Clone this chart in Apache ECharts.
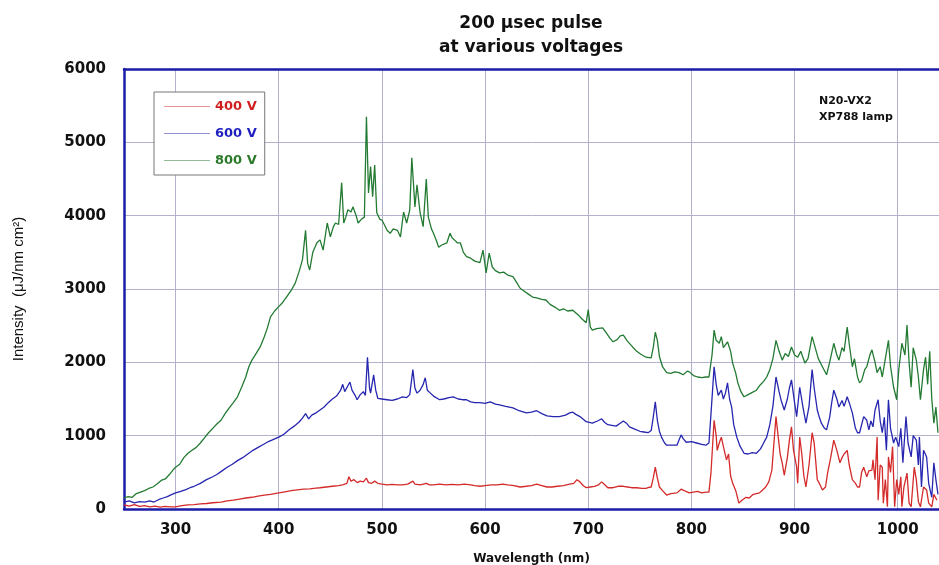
<!DOCTYPE html>
<html>
<head>
<meta charset="utf-8">
<script src="https://cdn.jsdelivr.net/npm/echarts@6/dist/echarts.min.js"></script>
<style>html,body{margin:0;padding:0;background:#fff}#c{width:939px;height:565px}</style>
</head>
<body>
<div id="c"></div>
<script>
var seriesNames = ['400 V', '600 V', '800 V'];
var yTicks = [0, 1000, 2000, 3000, 4000, 5000, 6000];
var xTicks = [300, 400, 500, 600, 700, 800, 900, 1000];

var v800 = [
[250,150],[254,170],[258,160],[262,210],[266,230],[270,250],[274,280],[278,300],[282,340],[286,390],[290,410],[294,470],[298,540],[300,570],[304,610],[308,700],[312,760],[316,800],[320,840],[324,900],[328,970],[332,1040],[336,1100],[340,1160],[344,1210],[348,1300],[352,1380],[356,1450],[360,1530],[364,1660],[368,1800],[371,1940],[374,2030],[378,2120],[382,2210],[386,2350],[389,2470],[392,2620],[396,2700],[400,2760],[404,2820],[408,2900],[412,2980],[416,3080],[420,3250],[423,3400],[426,3800],[428,3350],[430,3260],[433,3500],[437,3630],[440,3670],[443,3530],[447,3900],[450,3710],[453,3850],[455,3900],[458,3880],[461,4450],[463,3900],[465,3980],[467,4080],[470,4050],[472,4120],[475,4000],[477,3900],[480,3950],[483,3980],[485,5350],[487,4310],[489,4670],[491,4260],[493,4690],[495,4040],[498,3950],[500,3940],[503,3860],[505,3800],[508,3760],[511,3820],[515,3800],[518,3710],[521,4050],[524,3900],[527,4080],[529,4790],[532,4120],[534,4420],[537,4040],[540,3850],[543,4500],[545,3980],[548,3820],[550,3760],[553,3650],[555,3570],[558,3600],[563,3630],[566,3760],[568,3700],[571,3660],[573,3630],[576,3630],[579,3500],[582,3440],[586,3420],[590,3380],[595,3360],[598,3530],[601,3220],[604,3490],[607,3300],[610,3250],[614,3220],[618,3230],[622,3190],[627,3170],[631,3080],[634,3010],[638,2970],[642,2930],[646,2890],[650,2880],[655,2860],[659,2850],[663,2790],[668,2750],[672,2710],[676,2730],[680,2700],[685,2710],[690,2650],[694,2590],[698,2540],[700,2720],[702,2480],[704,2440],[708,2460],[714,2470],[718,2390],[721,2330],[724,2280],[728,2310],[731,2360],[734,2370],[738,2290],[743,2210],[747,2150],[751,2110],[756,2070],[761,2060],[763,2200],[765,2410],[767,2300],[769,2080],[772,1940],[776,1860],[780,1850],[784,1870],[788,1860],[792,1830],[796,1880],[798,1870],[802,1820],[806,1800],[810,1790],[814,1800],[817,1800],[820,2100],[822,2440],[824,2300],[827,2260],[829,2350],[831,2200],[835,2280],[838,2150],[840,1990],[843,1850],[845,1720],[848,1600],[851,1530],[855,1560],[859,1590],[863,1620],[866,1680],[870,1740],[873,1800],[876,1900],[879,2050],[882,2300],[885,2150],[888,2030],[891,2120],[894,2080],[897,2210],[900,2100],[903,2070],[906,2150],[910,1990],[913,2050],[915,2200],[917,2350],[920,2200],[923,2050],[927,1940],[931,1830],[934,2000],[938,2260],[941,2100],[943,2030],[946,2200],[948,2150],[951,2480],[953,2250],[956,1940],[958,2050],[961,1800],[963,1720],[965,1750],[968,1900],[970,1940],[973,2100],[975,2170],[978,2000],[980,1860],[983,1940],[985,1800],[988,2050],[991,2300],[993,1950],[996,1660],[999,1490],[1001,1900],[1004,2260],[1007,2100],[1009,2510],[1011,2000],[1013,1660],[1015,2200],[1018,2030],[1020,1800],[1022,1490],[1025,1900],[1027,2070],[1029,1700],[1031,2150],[1033,1500],[1035,1170],[1037,1390],[1039,1040]
];

var v600 = [
[250,95],[255,110],[260,85],[265,100],[270,95],[275,110],[279,95],[284,130],[288,150],[292,170],[296,195],[300,220],[305,240],[310,265],[314,290],[318,310],[324,350],[330,400],[336,440],[340,470],[345,520],[350,570],[355,610],[360,660],[365,700],[370,750],[375,800],[380,840],[385,880],[390,920],[395,950],[400,980],[405,1020],[410,1080],[415,1130],[420,1190],[423,1240],[426,1300],[429,1230],[432,1280],[436,1310],[440,1350],[444,1390],[448,1450],[452,1500],[456,1540],[460,1620],[462,1700],[464,1600],[467,1680],[469,1730],[471,1620],[474,1550],[476,1490],[479,1560],[482,1600],[484,1550],[486,2070],[488,1650],[489,1580],[492,1830],[494,1620],[496,1510],[500,1500],[505,1490],[510,1480],[515,1500],[520,1530],[524,1520],[527,1560],[530,1900],[532,1650],[534,1580],[537,1620],[540,1700],[542,1790],[544,1620],[547,1580],[550,1540],[556,1490],[560,1500],[565,1520],[569,1530],[574,1500],[578,1490],[582,1490],[586,1460],[590,1450],[595,1450],[600,1440],[605,1460],[610,1430],[614,1420],[620,1400],[627,1380],[633,1340],[640,1310],[645,1320],[650,1340],[655,1300],[660,1270],[666,1260],[672,1260],[678,1280],[682,1310],[685,1320],[688,1290],[692,1260],[698,1190],[704,1170],[709,1200],[713,1230],[716,1180],[719,1150],[723,1140],[727,1130],[731,1170],[734,1200],[737,1170],[740,1120],[745,1090],[750,1060],[754,1050],[758,1040],[761,1070],[763,1250],[765,1460],[767,1210],[769,1060],[771,980],[774,900],[776,870],[781,870],[786,870],[788,940],[790,1010],[792,960],[795,910],[800,920],[805,900],[810,880],[814,870],[817,900],[819,1300],[822,1940],[824,1700],[826,1550],[829,1620],[831,1500],[833,1580],[835,1720],[837,1500],[839,1390],[841,1150],[844,980],[847,860],[851,760],[855,750],[859,770],[863,760],[867,820],[870,900],[873,980],[876,1150],[879,1400],[882,1800],[885,1600],[887,1480],[890,1350],[893,1500],[895,1650],[897,1760],[900,1450],[902,1260],[905,1660],[908,1400],[911,1170],[914,1400],[917,1900],[919,1650],[922,1350],[924,1250],[926,1170],[929,1100],[931,1080],[934,1250],[936,1450],[938,1620],[941,1500],[943,1390],[946,1480],[948,1400],[951,1530],[953,1450],[956,1310],[959,1100],[961,1040],[963,1040],[965,1150],[967,1260],[970,1210],[972,1080],[974,1200],[976,1120],[978,1350],[981,1490],[983,1200],[985,1040],[987,1250],[989,800],[991,1490],[993,1100],[996,900],[998,980],[1001,850],[1003,1100],[1005,630],[1008,1260],[1010,900],[1013,710],[1015,1000],[1018,940],[1020,600],[1021,980],[1023,300],[1025,800],[1028,710],[1030,350],[1033,160],[1035,630],[1037,400],[1039,200]
];

var v400 = [
[250,55],[255,40],[260,60],[265,35],[270,45],[275,30],[280,40],[285,25],[290,35],[295,30],[300,30],[306,45],[312,55],[318,60],[324,70],[330,75],[336,85],[344,95],[350,110],[356,120],[362,135],[368,150],[374,160],[380,175],[386,190],[392,200],[400,220],[406,235],[412,250],[418,260],[424,270],[430,275],[436,285],[440,290],[446,300],[452,310],[458,320],[462,330],[466,350],[468,440],[470,380],[473,400],[476,360],[479,380],[482,370],[485,420],[487,360],[490,350],[493,380],[496,350],[500,340],[505,330],[510,335],[515,330],[520,330],[525,340],[530,380],[532,340],[537,330],[543,350],[546,330],[550,330],[556,340],[562,330],[568,335],[574,330],[580,340],[586,330],[590,320],[595,310],[600,320],[606,330],[612,330],[617,340],[622,330],[628,320],[634,300],[640,310],[645,320],[650,340],[655,320],[660,300],[665,300],[670,310],[676,320],[682,340],[686,350],[689,400],[692,370],[695,320],[698,290],[702,300],[706,310],[710,330],[713,370],[716,330],[719,290],[724,290],[729,310],[734,310],[738,300],[742,290],[747,290],[752,280],[756,280],[758,290],[761,300],[763,420],[765,570],[767,420],[769,300],[772,250],[776,190],[780,210],[786,220],[790,270],[793,250],[798,220],[802,230],[806,240],[810,220],[814,230],[817,230],[819,500],[822,1210],[824,1000],[825,800],[827,900],[829,980],[831,850],[834,670],[836,750],[838,450],[840,350],[843,250],[846,80],[849,120],[853,160],[856,150],[860,200],[863,210],[866,220],[869,260],[872,300],[875,370],[878,530],[880,900],[882,1260],[884,1000],[886,750],[888,630],[890,460],[893,700],[895,940],[897,1120],[899,800],[902,570],[903,350],[905,980],[907,750],[909,450],[911,300],[914,600],[917,1040],[919,900],[922,400],[924,350],[927,260],[930,300],[932,490],[935,700],[938,940],[941,800],[944,630],[946,700],[948,750],[951,800],[953,600],[956,400],[959,350],[961,300],[963,300],[965,500],[967,570],[970,440],[972,520],[975,530],[976,670],[978,400],[980,980],[981,120],[983,600],[985,570],[986,80],[988,400],[990,30],[991,710],[993,500],[995,850],[997,30],[999,400],[1001,200],[1003,440],[1004,30],[1006,300],[1009,490],[1011,80],[1013,30],[1016,570],[1018,400],[1020,100],[1022,30],[1025,300],[1028,260],[1030,80],[1033,30],[1035,200],[1038,120]
];

var colors = { '400 V': '#d42a2a', '600 V': '#2626b0', '800 V': '#237a32' };
var textColors = { '400 V': '#d01e1e', '600 V': '#1f1fc0', '800 V': '#2a7a2a' };

var chart = echarts.init(document.getElementById('c'), null, { renderer: 'canvas' });
var FONT = 'Liberation Sans, Arial, sans-serif';
var WIDE = 'DejaVu Sans, Verdana, sans-serif';
var axisBlue = '#1c1ca8';
var gridCol = '#b2b2cc';

chart.setOption({
  animation: false,
  backgroundColor: '#ffffff',
  graphic: [
    { type: 'text', x: 531, y: 12, style: { text: '200 \u03bcsec pulse\nat various voltages', align: 'center', fontFamily: WIDE, fontSize: 17, fontWeight: 'bold', lineHeight: 24, fill: '#111' } },
    { type: 'text', x: 819, y: 93, style: { text: 'N20-VX2\nXP788 lamp', fontFamily: WIDE, fontSize: 11, fontWeight: 'bold', lineHeight: 16, fill: '#111' } }
  ],
  legend: {
    orient: 'vertical', left: 154, top: 92,
    padding: [8, 8, 8, 10], itemGap: 14, itemWidth: 46, itemHeight: 14,
    borderColor: '#777', borderWidth: 1, backgroundColor: '#fff',
    icon: 'path://M0,0 L100,0 L100,1 L0,1 Z',
    data: seriesNames.map(function (n) {
      return { name: n, itemStyle: { color: colors[n] }, textStyle: { color: textColors[n], fontWeight: 'bold', fontSize: 13, fontFamily: WIDE } };
    })
  },
  grid: { left: 124, right: 0, top: 69, bottom: 56, containLabel: false, outerBoundsMode: 'none' },
  xAxis: [{
    type: 'value', min: 250, max: 1040, minInterval: 100, maxInterval: 100,
    name: 'Wavelength (nm)', nameLocation: 'middle', nameGap: 44,
    nameTextStyle: { fontFamily: WIDE, fontSize: 12, fontWeight: 'bold', color: '#111' },
    axisLine: { show: true, onZero: false, lineStyle: { color: axisBlue, width: 2.5 } },
    axisTick: { show: false },
    axisLabel: { showMinLabel: false, showMaxLabel: false, margin: 14, fontFamily: WIDE, fontSize: 15, fontWeight: 'bold', color: '#111', formatter: function (v) { return xTicks.indexOf(v) >= 0 ? String(v) : ''; } },
    splitLine: { show: true, lineStyle: { color: gridCol, width: 1 } }
  }, {
    type: 'value', position: 'top', min: 250, max: 1040,
    axisLine: { show: true, onZero: false, lineStyle: { color: axisBlue, width: 2.5 } },
    axisTick: { show: false }, axisLabel: { show: false }, splitLine: { show: false }
  }],
  yAxis: {
    type: 'value', min: 0, max: 6000, interval: 1000,
    name: 'Intensity  (\u03bcJ/nm cm\u00b2)', nameLocation: 'middle', nameGap: 98, nameRotate: 90,
    nameTextStyle: { fontFamily: FONT, fontSize: 15, color: '#111' },
    axisLine: { show: true, lineStyle: { color: axisBlue, width: 2.5 } },
    axisTick: { show: false },
    axisLabel: { margin: 18, fontFamily: WIDE, fontSize: 15, fontWeight: 'bold', color: '#111', formatter: function (v) { return yTicks.indexOf(v) >= 0 ? String(v) : ''; } },
    splitLine: { show: true, lineStyle: { color: gridCol, width: 1 } }
  },
  series: [
    { name: '800 V', type: 'line', data: v800, showSymbol: false, symbol: 'none', lineStyle: { width: 1.3, color: colors['800 V'] }, itemStyle: { color: colors['800 V'] }, z: 2 },
    { name: '600 V', type: 'line', data: v600, showSymbol: false, symbol: 'none', lineStyle: { width: 1.3, color: colors['600 V'] }, itemStyle: { color: colors['600 V'] }, z: 3 },
    { name: '400 V', type: 'line', data: v400, showSymbol: false, symbol: 'none', lineStyle: { width: 1.3, color: colors['400 V'] }, itemStyle: { color: colors['400 V'] }, z: 4 }
  ]
});
</script>
</body>
</html>
